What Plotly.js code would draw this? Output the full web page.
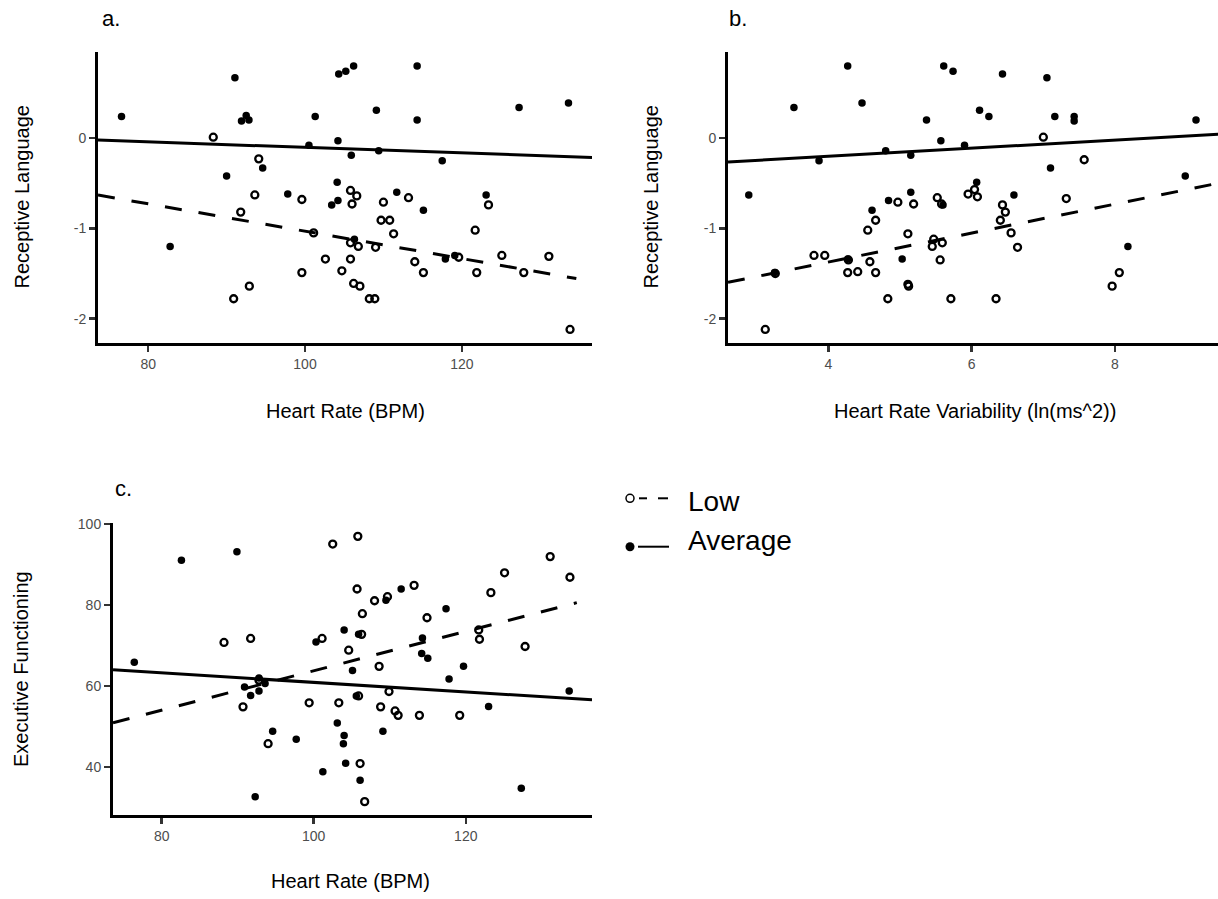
<!DOCTYPE html>
<html><head><meta charset="utf-8">
<script src="https://cdn.plot.ly/plotly-3.0.1.min.js"></script>
<style>html,body{margin:0;padding:0;background:#fff;}#chart{width:1218px;height:899px;}</style>
</head><body><div id="chart"></div>
<script>
// ---------- Panel a: Heart Rate vs Receptive Language ----------
const aAvgHR = [76.6,91.06,91.9,92.5,92.85,104.3,105.2,106.2,114.3,101.3,109.1,114.3,127.3,133.6,104.2,100.5,105.9,109.4,117.5,94.6,90.0,104.1,97.8,104.2,103.4,111.7,115.1,123.1,82.8,106.3,117.9,119.1];
const aAvgRL = [0.24,0.67,0.19,0.25,0.20,0.71,0.74,0.80,0.80,0.24,0.31,0.20,0.34,0.39,-0.03,-0.08,-0.19,-0.14,-0.25,-0.33,-0.42,-0.49,-0.62,-0.69,-0.74,-0.60,-0.80,-0.63,-1.20,-1.12,-1.34,-1.30];
const aLowHR = [88.3,94.1,93.6,91.8,99.6,105.8,106.6,106.0,110.0,113.2,123.4,109.7,110.8,111.3,101.1,121.7,105.8,106.8,109.0,102.6,105.8,114.0,115.1,125.1,131.1,121.9,127.9,99.6,104.7,92.9,106.2,107.0,90.9,108.2,108.9,133.8,119.6];
const aLowRL = [0.01,-0.23,-0.63,-0.82,-0.68,-0.58,-0.64,-0.73,-0.71,-0.66,-0.74,-0.91,-0.91,-1.06,-1.05,-1.02,-1.16,-1.20,-1.21,-1.34,-1.34,-1.37,-1.49,-1.30,-1.31,-1.49,-1.49,-1.49,-1.47,-1.64,-1.61,-1.64,-1.78,-1.78,-1.78,-2.12,-1.32];
const aAvgFitX = [73.6,136.6], aAvgFitY = [-0.022,-0.214];
const aLowFitX = [73.6,134.6], aLowFitY = [-0.631,-1.556];

// ---------- Panel b: HRV vs Receptive Language ----------
const bAvgHRV = [4.27,5.61,5.74,6.43,7.05,3.52,4.47,6.11,6.24,5.37,7.16,7.43,7.43,9.13,5.57,5.90,4.80,5.15,3.87,7.10,8.98,2.89,6.07,5.15,4.84,5.60,6.59,4.61,8.18,5.03,3.25,4.27];
const bAvgRL = [0.80,0.80,0.74,0.71,0.67,0.34,0.39,0.31,0.24,0.20,0.24,0.24,0.19,0.20,-0.03,-0.08,-0.14,-0.19,-0.25,-0.33,-0.42,-0.63,-0.49,-0.60,-0.69,-0.74,-0.63,-0.80,-1.20,-1.34,-1.49,-1.34];
const bLowHRV = [7.00,7.57,7.32,6.04,5.95,6.08,5.52,5.58,4.97,5.19,6.43,6.47,6.40,4.66,4.55,5.11,6.55,5.47,5.45,5.59,6.64,3.80,3.95,4.28,4.58,5.56,4.27,4.41,4.66,3.26,5.11,5.12,8.06,7.96,4.83,5.71,6.34,3.12];
const bLowRL = [0.01,-0.24,-0.67,-0.57,-0.62,-0.65,-0.66,-0.73,-0.71,-0.73,-0.74,-0.82,-0.91,-0.91,-1.02,-1.06,-1.05,-1.12,-1.20,-1.16,-1.21,-1.30,-1.30,-1.35,-1.37,-1.35,-1.49,-1.48,-1.49,-1.50,-1.62,-1.64,-1.49,-1.64,-1.78,-1.78,-1.78,-2.12];
const bAvgFitX = [2.6,9.44], bAvgFitY = [-0.265,0.044];
const bLowFitX = [2.6,9.44], bLowFitY = [-1.598,-0.50];

// ---------- Panel c: Heart Rate vs Executive Functioning ----------
const cAvgHR = [76.4,82.6,89.9,111.5,109.5,117.4,104.0,105.9,100.3,114.3,114.2,115.0,119.7,105.1,117.8,92.8,93.6,90.9,91.7,92.8,133.6,123.0,103.1,94.6,109.1,97.7,104.0,103.9,104.2,101.2,106.1,92.3,127.3,105.6];
const cAvgEF = [65.9,91.1,93.2,84.0,81.2,79.1,73.9,72.8,70.9,71.9,68.1,66.9,64.9,63.9,61.8,62.0,60.7,59.8,57.7,58.8,58.8,55.0,50.9,48.9,48.9,46.9,47.8,45.8,41.0,38.9,36.8,32.7,34.8,57.6];
const cLowHR = [105.8,102.5,131.1,125.1,133.7,113.2,105.7,123.3,108.0,109.7,106.4,114.9,121.7,121.8,106.3,101.1,91.7,88.2,104.6,127.8,108.6,92.8,109.9,105.9,90.7,99.4,103.3,108.8,110.7,111.1,113.9,119.2,94.0,106.1,106.7];
const cLowEF = [97.0,95.1,92.0,88.0,86.9,84.9,84.0,83.1,81.1,82.1,77.9,76.9,73.9,71.6,72.8,71.8,71.8,70.8,68.9,69.8,64.9,61.5,58.7,57.6,54.9,55.9,55.9,54.9,53.9,52.8,52.8,52.8,45.8,40.9,31.5];
const cAvgFitX = [73.6,136.6], cAvgFitY = [64.06,56.63];
const cLowFitX = [73.6,134.6], cLowFitY = [50.98,80.63];

// ---------- tick labels & text ----------
const hrTickVals = [80,100,120], hrTickText = ['80','100','120'];
const hrvTickVals = [4,6,8], hrvTickText = ['4','6','8'];
const rlTickVals = [0,-1,-2], rlTickText = ['0','-1','-2'];
const efTickVals = [40,60,80,100], efTickText = ['40','60','80','100'];
const panelLabels = ['a.','b.','c.'];
const legendNames = ['Low','Average'];

const FONT = '"Liberation Sans", Arial, Helvetica, sans-serif';
const W = 1218, H = 899;
const px = v => v / W;
const py = v => 1 - v / H;

function axis(domain, range, vals, text, anchor) {
  return {domain, range, anchor, tickmode:'array', tickvals:vals, ticktext:text,
    showline:true, linecolor:'#000', linewidth:3, ticks:'outside', ticklen:6, tickwidth:2.5,
    tickcolor:'#333', tickfont:{family:FONT, size:14, color:'#4d4d4d'},
    showgrid:false, zeroline:false, fixedrange:true};
}

const filled = {symbol:'circle', size:7.5, color:'#000'};
const hollow = {symbol:'circle-open', size:7, color:'#000', line:{width:2.3, color:'#000'}};
const solidLine = {color:'#000', width:3};
const dashLine = {color:'#000', width:3, dash:'17px,17px'};

function pts(x, y, m, xa, ya) { return {x, y, type:'scatter', mode:'markers', marker:m, xaxis:xa, yaxis:ya, hoverinfo:'skip', showlegend:false}; }
function fit(x, y, l, xa, ya) { return {x, y, type:'scatter', mode:'lines', line:l, xaxis:xa, yaxis:ya, hoverinfo:'skip', showlegend:false}; }

const data = [
  pts(aAvgHR, aAvgRL, filled, 'x', 'y'), pts(aLowHR, aLowRL, hollow, 'x', 'y'),
  fit(aAvgFitX, aAvgFitY, solidLine, 'x', 'y'), fit(aLowFitX, aLowFitY, dashLine, 'x', 'y'),
  pts(bAvgHRV, bAvgRL, filled, 'x2', 'y2'), pts(bLowHRV, bLowRL, hollow, 'x2', 'y2'),
  fit(bAvgFitX, bAvgFitY, solidLine, 'x2', 'y2'), fit(bLowFitX, bLowFitY, dashLine, 'x2', 'y2'),
  pts(cAvgHR, cAvgEF, filled, 'x3', 'y3'), pts(cLowHR, cLowEF, hollow, 'x3', 'y3'),
  fit(cAvgFitX, cAvgFitY, solidLine, 'x3', 'y3'), fit(cLowFitX, cLowFitY, dashLine, 'x3', 'y3')
];

const topDom = [py(343), py(52)];
const botDom = [py(815), py(523)];

function txt(t, x, y, size, opts) {
  return Object.assign({text:t, xref:'paper', yref:'paper', x:px(x), y:py(y), showarrow:false,
    xanchor:'center', yanchor:'middle', font:{family:FONT, size:size, color:'#000'}}, opts || {});
}

const TS = 20;
const annotations = [
  txt(panelLabels[0], 100, 18.5, 22, {xanchor:'left'}),
  txt(panelLabels[1], 727, 18.5, 22, {xanchor:'left'}),
  txt(panelLabels[2], 113, 488.5, 22, {xanchor:'left'}),
  txt('Heart Rate (BPM)', 345, 411, TS),
  txt('Receptive Language', 21, 197.5, TS, {textangle:-90}),
  txt('Heart Rate Variability (ln(ms^2))', 975, 411, TS),
  txt('Receptive Language', 650, 197.5, TS, {textangle:-90}),
  txt('Heart Rate (BPM)', 350, 881, TS),
  txt('Executive Functioning', 21, 669, TS, {textangle:-90}),
  txt(legendNames[0], 686, 502, 28, {xanchor:'left'}),
  txt(legendNames[1], 686, 540, 28, {xanchor:'left'})
];

const shapes = [
  {type:'circle', xref:'paper', yref:'paper', x0:px(626), x1:px(634), y0:py(502.3), y1:py(494.3), line:{color:'#000', width:1.5}, fillcolor:'#fff'},
  {type:'line', xref:'paper', yref:'paper', x0:px(639), x1:px(647), y0:py(498.3), y1:py(498.3), line:{color:'#000', width:2}},
  {type:'line', xref:'paper', yref:'paper', x0:px(658), x1:px(668), y0:py(498.3), y1:py(498.3), line:{color:'#000', width:2}},
  {type:'circle', xref:'paper', yref:'paper', x0:px(625.5), x1:px(634.5), y0:py(551.2), y1:py(542.2), line:{color:'#000', width:0}, fillcolor:'#000'},
  {type:'line', xref:'paper', yref:'paper', x0:px(638), x1:px(669), y0:py(546.7), y1:py(546.7), line:{color:'#000', width:2}}
];

const layout = {
  width:W, height:H, margin:{l:0, r:0, t:0, b:0}, paper_bgcolor:'#fff', plot_bgcolor:'#fff',
  showlegend:false, font:{family:FONT},
  xaxis: axis([px(98), px(592)], [73.6, 136.6], hrTickVals, hrTickText, 'y'),
  yaxis: axis(topDom, [-2.27, 0.954], rlTickVals, rlTickText, 'x'),
  xaxis2: axis([px(728), 1], [2.6, 9.437], hrvTickVals, hrvTickText, 'y2'),
  yaxis2: axis(topDom, [-2.27, 0.954], rlTickVals, rlTickText, 'x2'),
  xaxis3: axis([px(113), px(592)], [73.6, 136.6], hrTickVals, hrTickText, 'y3'),
  yaxis3: axis(botDom, [28.2, 100.3], efTickVals, efTickText, 'x3'),
  annotations, shapes
};

Plotly.newPlot('chart', data, layout, {staticPlot:true, displayModeBar:false});
</script></body></html>
